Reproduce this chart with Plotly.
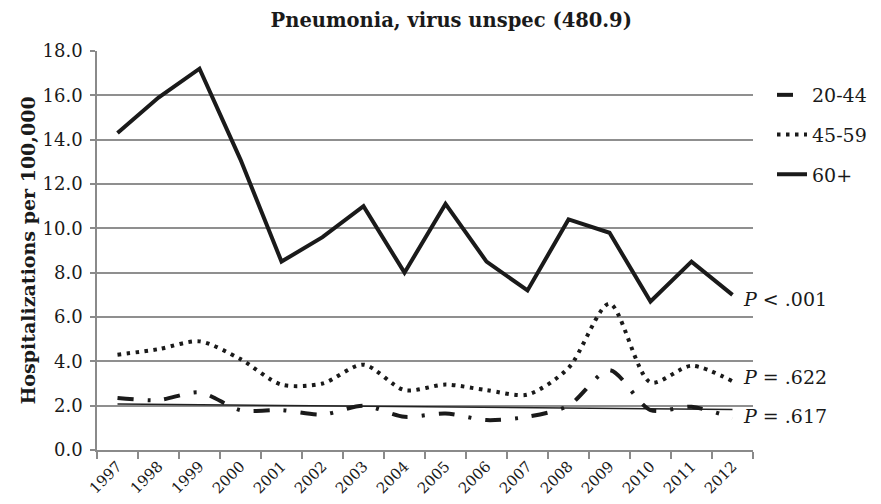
import numpy as np
import plotly.graph_objects as go

years = [str(y) for y in range(1997, 2013)]
age_20_44 = [2.35, 2.25, 2.6, 1.8, 1.8, 1.6, 2.0, 1.5, 1.65, 1.35, 1.5, 2.0, 3.6, 1.8, 1.95, 1.45]
age_45_59 = [4.3, 4.55, 4.9, 4.1, 2.95, 3.0, 3.85, 2.7, 2.95, 2.7, 2.5, 3.7, 6.6, 3.05, 3.8, 3.1]
age_60 = [14.3, 15.9, 17.2, 13.1, 8.5, 9.6, 11.0, 8.0, 11.1, 8.5, 7.2, 10.4, 9.8, 6.7, 8.5, 7.0]
p_labels = ["<i>P</i> < .001", "<i>P</i> = .622", "<i>P</i> = .617"]
p_yvals = [6.8, 3.3, 1.55]
y_ticks = [0, 2, 4, 6, 8, 10, 12, 14, 16, 18]

FONT = "DejaVu Serif"

# linear trend for 20-44
xi = np.arange(len(years))
slope, intercept = np.polyfit(xi, age_20_44, 1)
trend = (slope * xi + intercept).tolist()

fig = go.Figure()
fig.add_trace(go.Scatter(x=years, y=trend, mode="lines", showlegend=False,
                         line=dict(color="#222", width=1.5), hoverinfo="skip"))
fig.add_trace(go.Scatter(x=years, y=age_20_44, mode="lines", name="20-44", legendgroup="a",
                         line=dict(color="#1a1a1a", width=4, dash="16px,14px,3px,14px", shape="spline", smoothing=0.8)))
fig.add_trace(go.Scatter(x=years, y=age_45_59, mode="lines", name="45-59", legendgroup="b",
                         line=dict(color="#1a1a1a", width=4, dash="3.5px,5.5px", shape="spline", smoothing=0.8)))
fig.add_trace(go.Scatter(x=years, y=age_60, mode="lines", name="60+", legendgroup="c",
                         line=dict(color="#1a1a1a", width=4)))

for txt, yv in zip(p_labels, p_yvals):
    fig.add_annotation(text=txt, x=0.981, xref="paper", y=yv, yref="y", xanchor="left",
                       yanchor="middle", showarrow=False, font=dict(family=FONT, size=19, color="#1a1a1a"))

fig.update_layout(
    width=881, height=504,
    margin=dict(l=97, r=128, t=51, b=54),
    paper_bgcolor="white", plot_bgcolor="white",
    font=dict(family=FONT, color="#1a1a1a"),
    title=dict(text="<b>Pneumonia, virus unspec (480.9)</b>", x=0.54, xref="paper",
               y=1 - 20 / 504, yref="container", xanchor="center", yanchor="middle",
               font=dict(family=FONT, size=19.5, color="#1a1a1a")),
    legend=dict(x=772 / 881, y=1 - 76 / 504, xanchor="left", yanchor="top", xref="container", yref="container",
                font=dict(family=FONT, size=19, color="#1a1a1a"), tracegroupgap=12,
                bgcolor="rgba(0,0,0,0)"),
    showlegend=True,
)
fig.update_xaxes(type="category", range=[-0.5, 15.5], tickson="boundaries", ticks="outside",
                 ticklen=7, tickcolor="#8a8a8a", tickwidth=1.5, showline=True, linecolor="#8a8a8a",
                 linewidth=1.5, showgrid=False, tickangle=-45, automargin=False,
                 tickfont=dict(family=FONT, size=15, color="#1a1a1a"))
fig.update_yaxes(range=[0, 18], tickvals=y_ticks, ticktext=[f"{v:.1f}" for v in y_ticks],
                 ticks="outside", ticklen=5, tickcolor="#8a8a8a", tickwidth=1.5, showline=True,
                 linecolor="#8a8a8a", linewidth=1.5, showgrid=True, gridcolor="#8f8f8f", gridwidth=1.5,
                 zeroline=False, automargin=False, ticklabelstandoff=4,
                 tickfont=dict(family=FONT, size=18, color="#1a1a1a"),
                 title=dict(text="<b>Hospitalizations per 100,000</b>", standoff=2,
                            font=dict(family=FONT, size=19, color="#1a1a1a")))

fig.write_html("out.html", config={"displayModeBar": False},
               post_script="document.body.style.margin='0';")
